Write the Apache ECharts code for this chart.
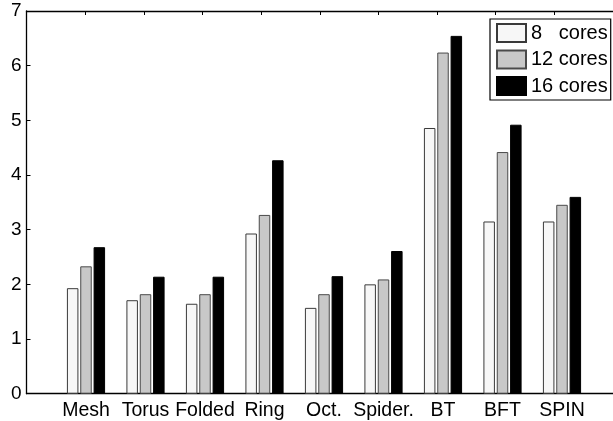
<!DOCTYPE html>
<html>
<head>
<meta charset="utf-8">
<script src="https://cdn.jsdelivr.net/npm/echarts@6/dist/echarts.min.js"></script>
<style>
  html, body { margin: 0; padding: 0; background: #fff; }
  #chart { width: 613px; height: 421px; }
</style>
</head>
<body>
<div id="chart"></div>
<script>
// Speedup per network topology for three core counts
const categories = ['Mesh', 'Torus', 'Folded', 'Ring', 'Oct.', 'Spider.', 'BT', 'BFT', 'SPIN'];
const cores8  = [1.93, 1.71, 1.645, 2.93, 1.57, 2.00, 4.86, 3.15, 3.15];
const cores12 = [2.33, 1.82, 1.82, 3.27, 1.82, 2.09, 6.24, 4.42, 3.455];
const cores16 = [2.68, 2.14, 2.14, 4.27, 2.15, 2.61, 6.545, 4.92, 3.60];
const seriesNames = ['8   cores', '12 cores', '16 cores'];
const yTicks = [0, 1, 2, 3, 4, 5, 6, 7];

const FONT = 'Liberation Sans, Arial, Helvetica, sans-serif';
const AX_TOP = 11, AX_BOTTOM = 27.3;      // px from top/bottom of the canvas
const BOX_LEFT = 26.5, SLOT = 59.5;       // axes box left edge and category pitch

const chart = echarts.init(document.getElementById('chart'), null, { renderer: 'canvas' });

const barStyle = (fill, edge) => ({ color: fill, borderColor: edge, borderWidth: 1 });

chart.setOption({
  animation: false,
  backgroundColor: '#ffffff',
  grid: [
    // axes box (x runs 0..10, categories sit on 1..9)
    { left: BOX_LEFT, top: AX_TOP, bottom: AX_BOTTOM, width: SLOT * 10 },
    // bar area: one slot per category, centred on 1..9 of the box
    { left: BOX_LEFT + SLOT / 2, top: AX_TOP, bottom: AX_BOTTOM, width: SLOT * 9 }
  ],
  xAxis: [
    {
      gridIndex: 0, type: 'value', min: 0, max: 10, interval: 1, position: 'bottom',
      axisLine: { show: true, lineStyle: { color: '#000', width: 1.3 } },
      axisTick: { show: false }, axisLabel: { show: false }, splitLine: { show: false }
    },
    {
      gridIndex: 0, type: 'value', min: 0, max: 10, interval: 1, position: 'top',
      axisLine: { show: true, lineStyle: { color: '#000', width: 1.3 } },
      axisTick: { show: true, inside: true, length: 4, lineStyle: { color: '#000', width: 1 } },
      axisLabel: { show: false }, splitLine: { show: false }
    },
    {
      gridIndex: 1, type: 'category', data: categories, position: 'bottom',
      axisLine: { show: false }, axisTick: { show: false }, splitLine: { show: false },
      axisLabel: { color: '#000', fontFamily: FONT, fontSize: 19.5, margin: 7,
                   interval: 0, hideOverlap: false }
    }
  ],
  yAxis: [
    {
      gridIndex: 0, type: 'value', min: yTicks[0], max: yTicks[yTicks.length - 1], interval: 1,
      axisLine: { show: true, lineStyle: { color: '#000', width: 1.3 } },
      axisTick: { show: true, inside: true, length: 4, lineStyle: { color: '#000', width: 1 } },
      axisLabel: { color: '#000', fontFamily: FONT, fontSize: 19, margin: 5 },
      splitLine: { show: false }
    },
    {
      gridIndex: 1, type: 'value', min: yTicks[0], max: yTicks[yTicks.length - 1], show: false
    }
  ],
  legend: {
    orient: 'vertical',
    left: 490, top: 19,
    padding: [4, 3, 4, 6],
    itemWidth: 29, itemHeight: 18, itemGap: 6.5, itemTextGap: 2,
    borderColor: '#000', borderWidth: 1.2,
    backgroundColor: '#fff',
    icon: 'rect',
    textStyle: { color: '#000', fontFamily: FONT, fontSize: 20 },
    data: seriesNames
  },
  series: [
    { name: seriesNames[0], type: 'bar', xAxisIndex: 2, yAxisIndex: 1, data: cores8,
      barWidth: 11.5, barGap: '16%', itemStyle: barStyle('#f7f7f7', '#3a3a3a') },
    { name: seriesNames[1], type: 'bar', xAxisIndex: 2, yAxisIndex: 1, data: cores12,
      barWidth: 11.5, barGap: '16%', itemStyle: barStyle('#c8c8c8', '#4a4a4a') },
    { name: seriesNames[2], type: 'bar', xAxisIndex: 2, yAxisIndex: 1, data: cores16,
      barWidth: 11.5, barGap: '16%', itemStyle: barStyle('#000000', '#000000') }
  ]
});
</script>
</body>
</html>
